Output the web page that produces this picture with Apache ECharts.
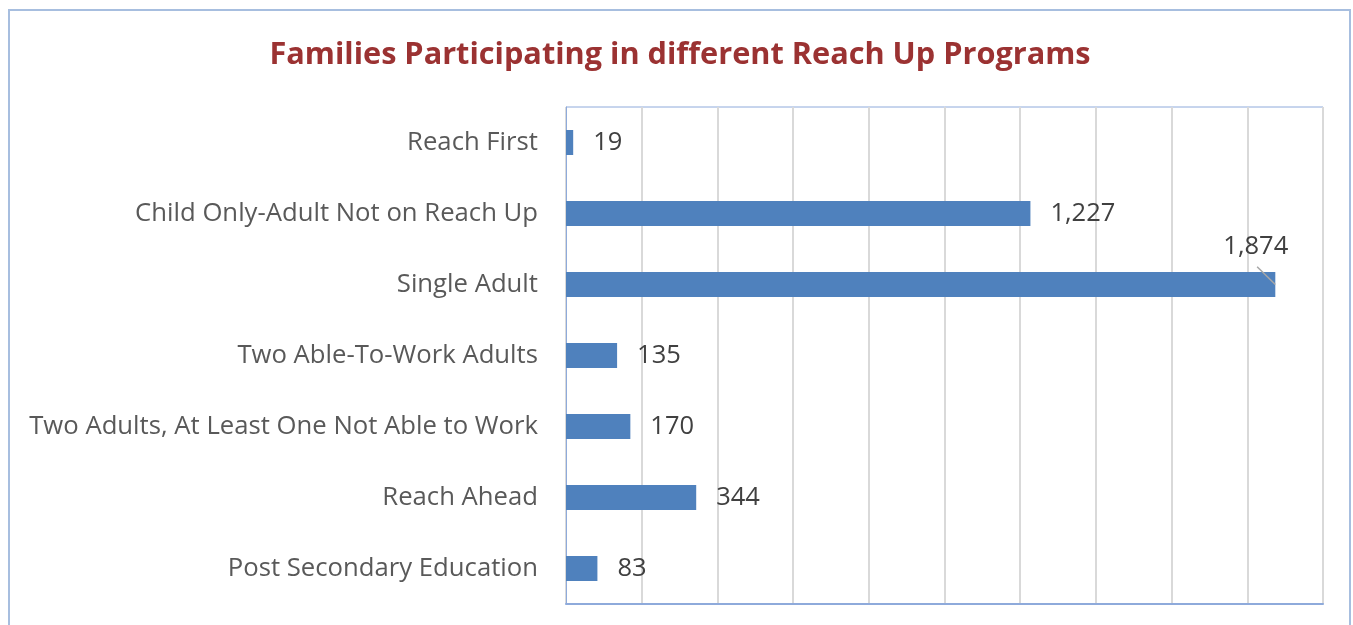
<!DOCTYPE html>
<html>
  <head>
    <meta charset="utf-8" />
    <title>Reach Up Programs</title>
    <script src="https://cdn.jsdelivr.net/npm/echarts@6.0.0/dist/echarts.min.js"></script>
    <style>
      html, body { margin: 0; padding: 0; background: #fff; }
      #frame { position: absolute; left: 8px; top: 9px; width: 1343px; height: 640px; border: 2px solid #a7bedf; box-sizing: border-box; }
      #chart { position: absolute; left: 0; top: 0; width: 1353px; height: 625px; }
    </style>
  </head>
  <body>
    <div id="frame"></div>
    <div id="chart"></div>
    <script type="text/javascript">
      // categories listed bottom to top (ECharts category y axis starts at bottom)
      const categories = [
        'Post Secondary Education',
        'Reach Ahead',
        'Two Adults, At Least One Not Able to Work',
        'Two Able-To-Work Adults',
        'Single Adult',
        'Child Only-Adult Not on Reach Up',
        'Reach First'
      ];
      const families = [83, 344, 170, 135, 1874, 1227, 19];
      // leader line for the 1,874 label: [value, category position]
      const leader = [[1826, 4.25], [1874, 4.0]];

      const fontFamily = '"Open Sans", sans-serif';
      const chart = echarts.init(document.getElementById('chart'));

      chart.setOption({
        animation: false,
        title: {
          text: 'Families Participating in different Reach Up Programs',
          left: 675,
          textAlign: 'center',
          top: 35,
          textStyle: { color: '#9b3232', fontSize: 30.7, fontWeight: 'bold', fontFamily }
        },
        grid: {
          left: 566, right: 30, top: 107, bottom: 21,
          show: true, borderColor: '#8eaadb', borderWidth: 1
        },
        xAxis: {
          type: 'value', min: 0, max: 2000, interval: 200,
          axisLabel: { show: false },
          axisTick: { show: false },
          axisLine: { show: true, onZero: false, lineStyle: { color: '#8eaadb', width: 2 } },
          splitLine: { lineStyle: { color: '#d9d9d9', width: 2 } }
        },
        yAxis: [{
          type: 'category', data: categories,
          axisTick: { show: false },
          axisLine: { show: true, lineStyle: { color: '#8eaadb', width: 1 } },
          axisLabel: { color: '#595959', fontSize: 25.7, fontFamily, margin: 28, padding: [4, 0, 0, 0] }
        }, {
          // hidden value axis aligned with the category bands, for the leader line
          type: 'value', min: -0.5, max: 6.5, show: false, splitLine: { show: false }
        }],
        series: [{
          type: 'bar',
          data: families.map((v, i) => i === 4
            ? { value: v, label: { offset: [-72, -38] } }
            : v),
          barWidth: 25,
          itemStyle: { color: '#4f81bd' },
          label: {
            show: true, position: 'right', distance: 20,
            color: '#404040', fontSize: 25.5, fontFamily,
            padding: [4, 0, 0, 0],
            formatter: p => p.value.toLocaleString('en-US')
          }
        }, {
          type: 'line',
          yAxisIndex: 1,
          data: leader,
          symbol: 'none',
          silent: true,
          lineStyle: { color: '#a6a6a6', width: 1.5 }
        }]
      });
    </script>
  </body>
</html>
